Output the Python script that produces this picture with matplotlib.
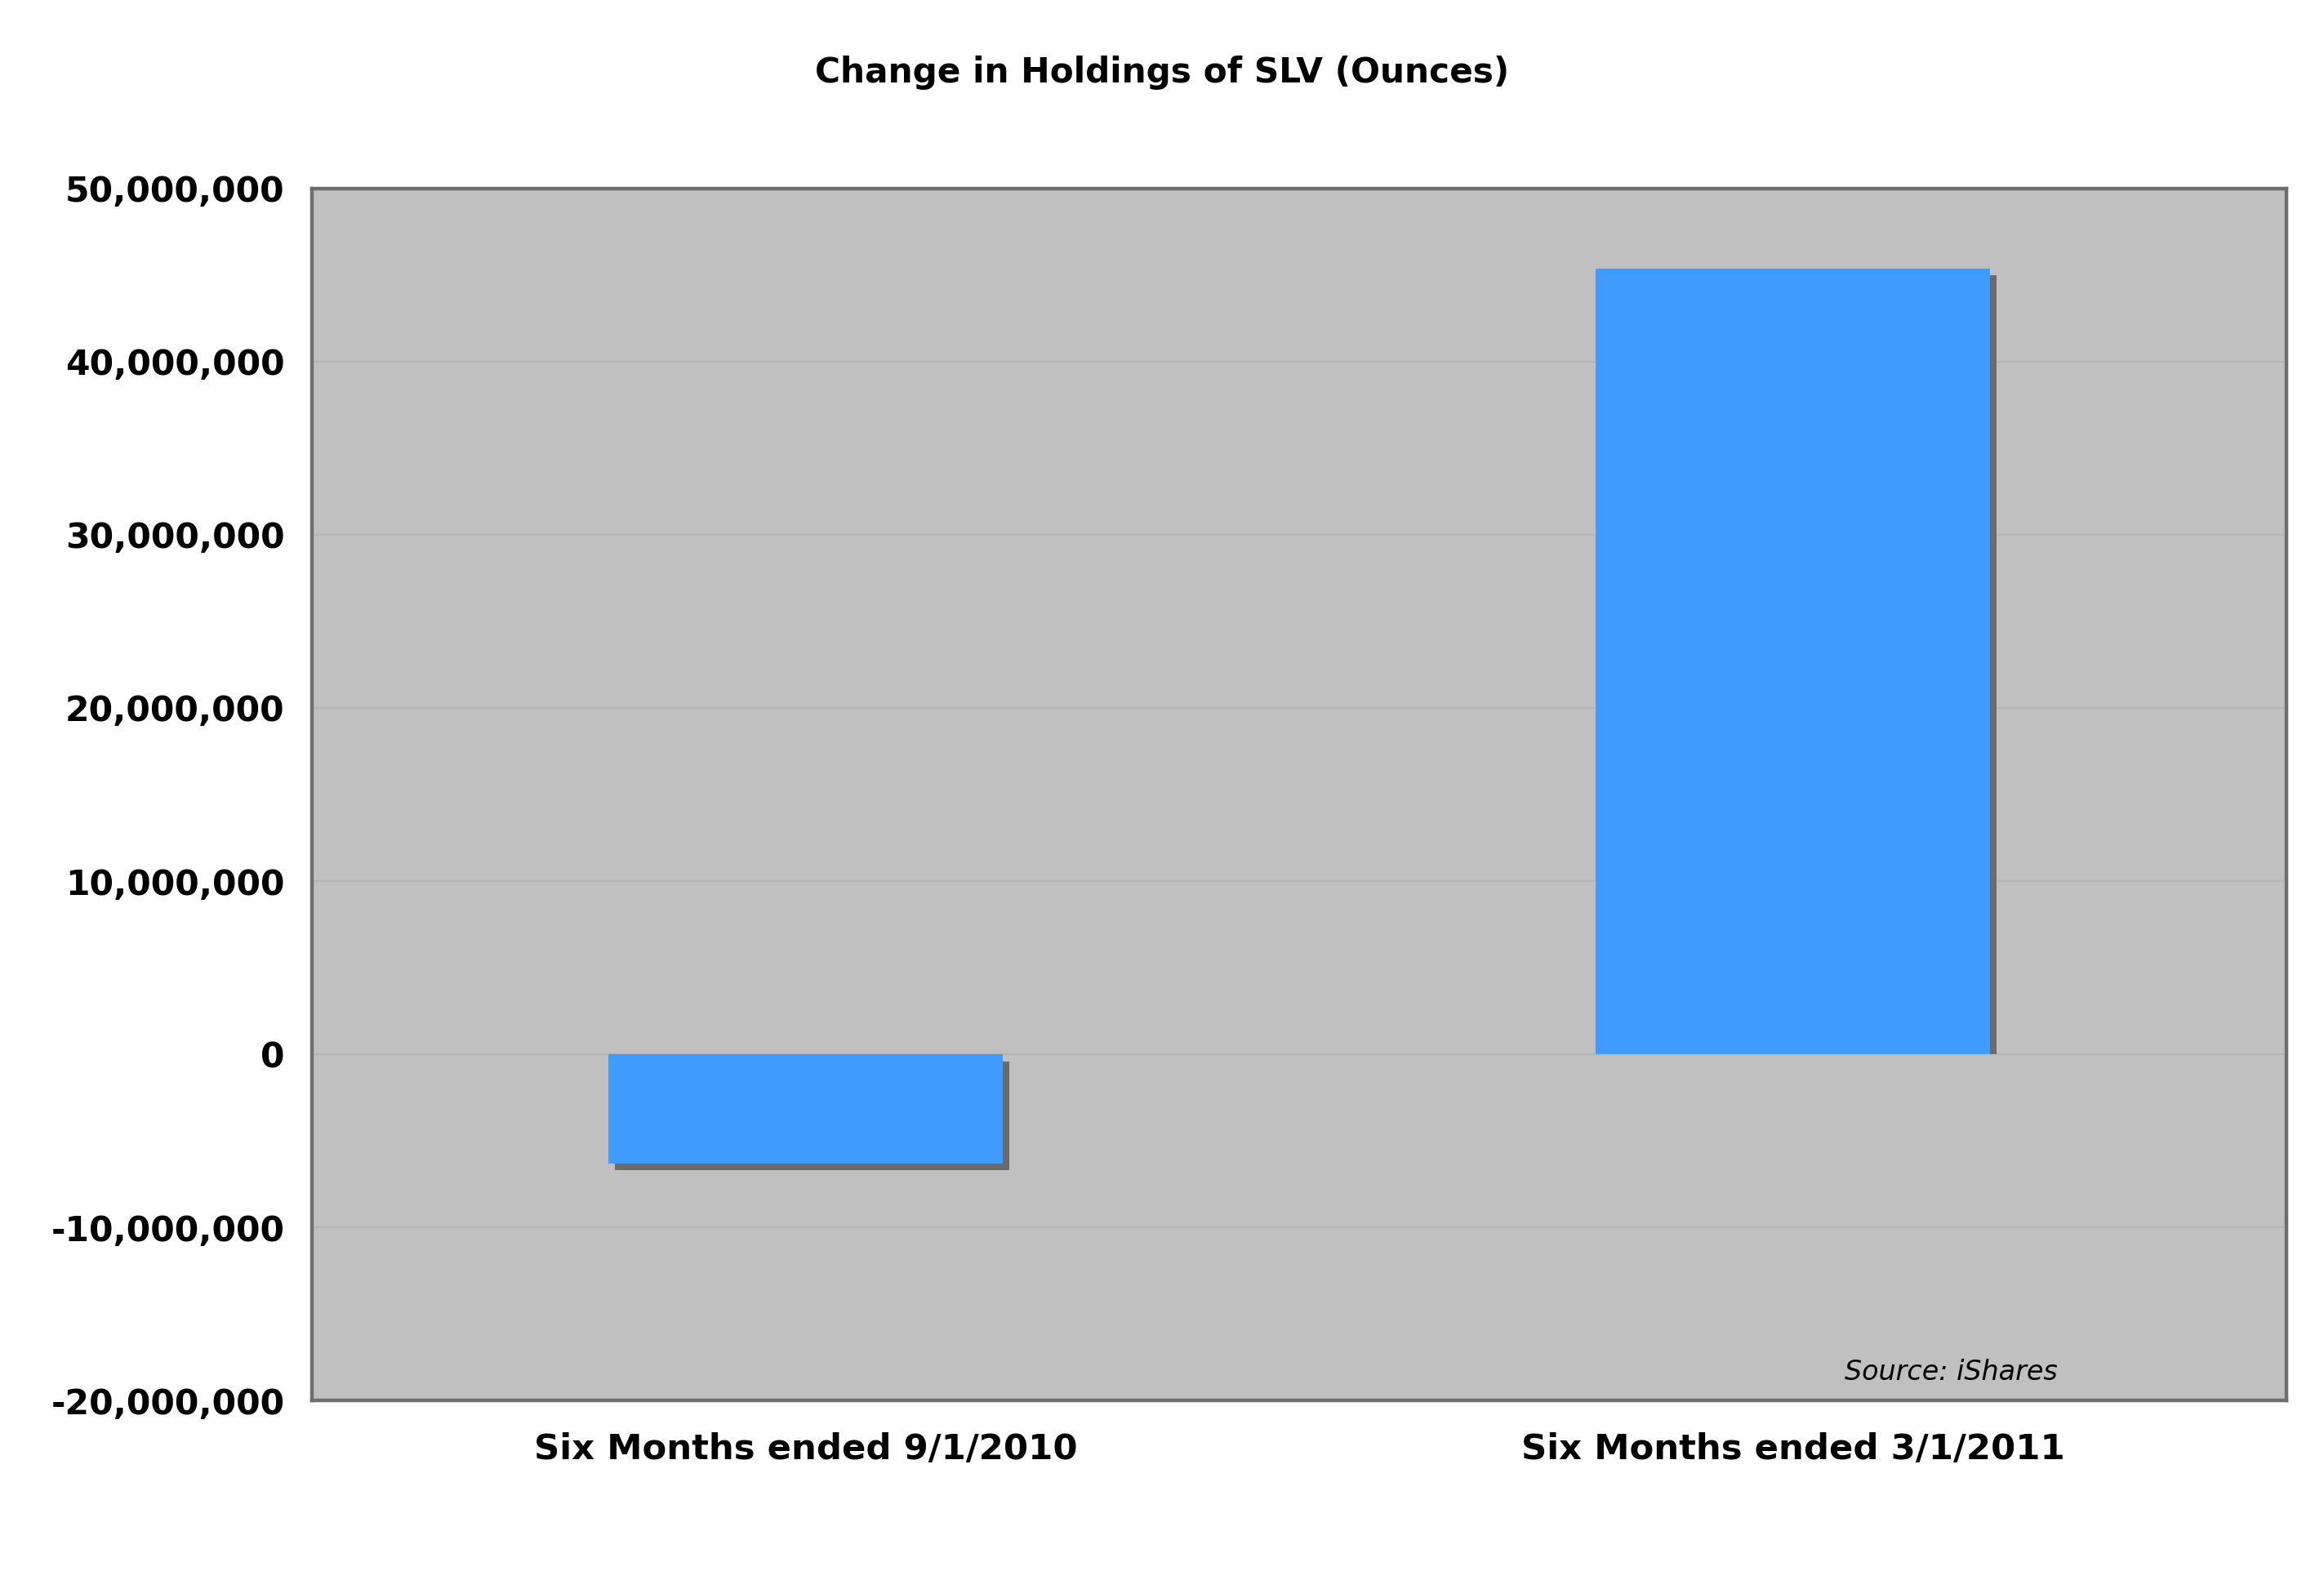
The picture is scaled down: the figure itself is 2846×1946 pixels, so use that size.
import numpy as np
import matplotlib
matplotlib.use("Agg")
import matplotlib.pyplot as plt
from matplotlib.transforms import ScaledTranslation, Bbox, TransformedBbox
from matplotlib.ticker import FuncFormatter

# data
periods = ["Six Months ended 9/1/2010", "Six Months ended 3/1/2011"]
change_oz = [-6300000, 45400000]
yticks = np.arange(-20000000, 50000001, 10000000)

plt.rcParams['font.family'] = ['DejaVu Sans']

fig = plt.figure(figsize=(14.23, 9.73), dpi=200)
ax = fig.add_axes([382/2846, 1 - 1715/1946, (2800-382)/2846, (1715-231)/1946])
ax.set_facecolor('#c0c0c0')

ymin, ymax = -20000000, 50000000
x = np.arange(len(periods))

# drop shadow: same bars shifted right/down, kept on their own side of zero
shift = ax.transData + ScaledTranslation(2.9/72, -3.2/72, fig.dpi_scale_trans)
shadows = ax.bar(x, change_oz, width=0.4, color='#6b6b6b', zorder=2, transform=shift)
for s, v in zip(shadows, change_oz):
    lo, hi = (0, ymax) if v >= 0 else (ymin, ymax)
    s.set_clip_box(TransformedBbox(Bbox([[-0.5, lo], [1.5, hi]]), ax.transData))

ax.bar(x, change_oz, width=0.4, color='#3f9bfe', zorder=3)

ax.set_xlim(-0.5, 1.5)
ax.set_ylim(ymin, ymax)
ax.set_yticks(yticks)
ax.yaxis.set_major_formatter(FuncFormatter(lambda v, p: f"{int(v):,}"))
ax.set_xticks(x)
ax.set_xticklabels(periods)
ax.grid(axis='y', color='#b5b5b5', linewidth=0.8, zorder=0)
ax.set_axisbelow(True)

ax.tick_params(axis='y', length=0, pad=12, labelsize=15.3)
ax.tick_params(axis='x', length=0, pad=14, labelsize=15.6)
for lab in ax.get_yticklabels() + ax.get_xticklabels():
    lab.set_fontweight('bold')

for s in ax.spines.values():
    s.set_color('#6e6e6e')
    s.set_linewidth(1.6)

fig.text(0.5, 1 - 89/1946, "Change in Holdings of SLV (Ounces)", ha='center', va='center',
         fontsize=15.2, fontweight='bold')
ax.text(0.884, 0.012, "Source: iShares", transform=ax.transAxes, ha='right', va='bottom',
        fontsize=12, style='italic')

fig.savefig("out.png", dpi=200)
